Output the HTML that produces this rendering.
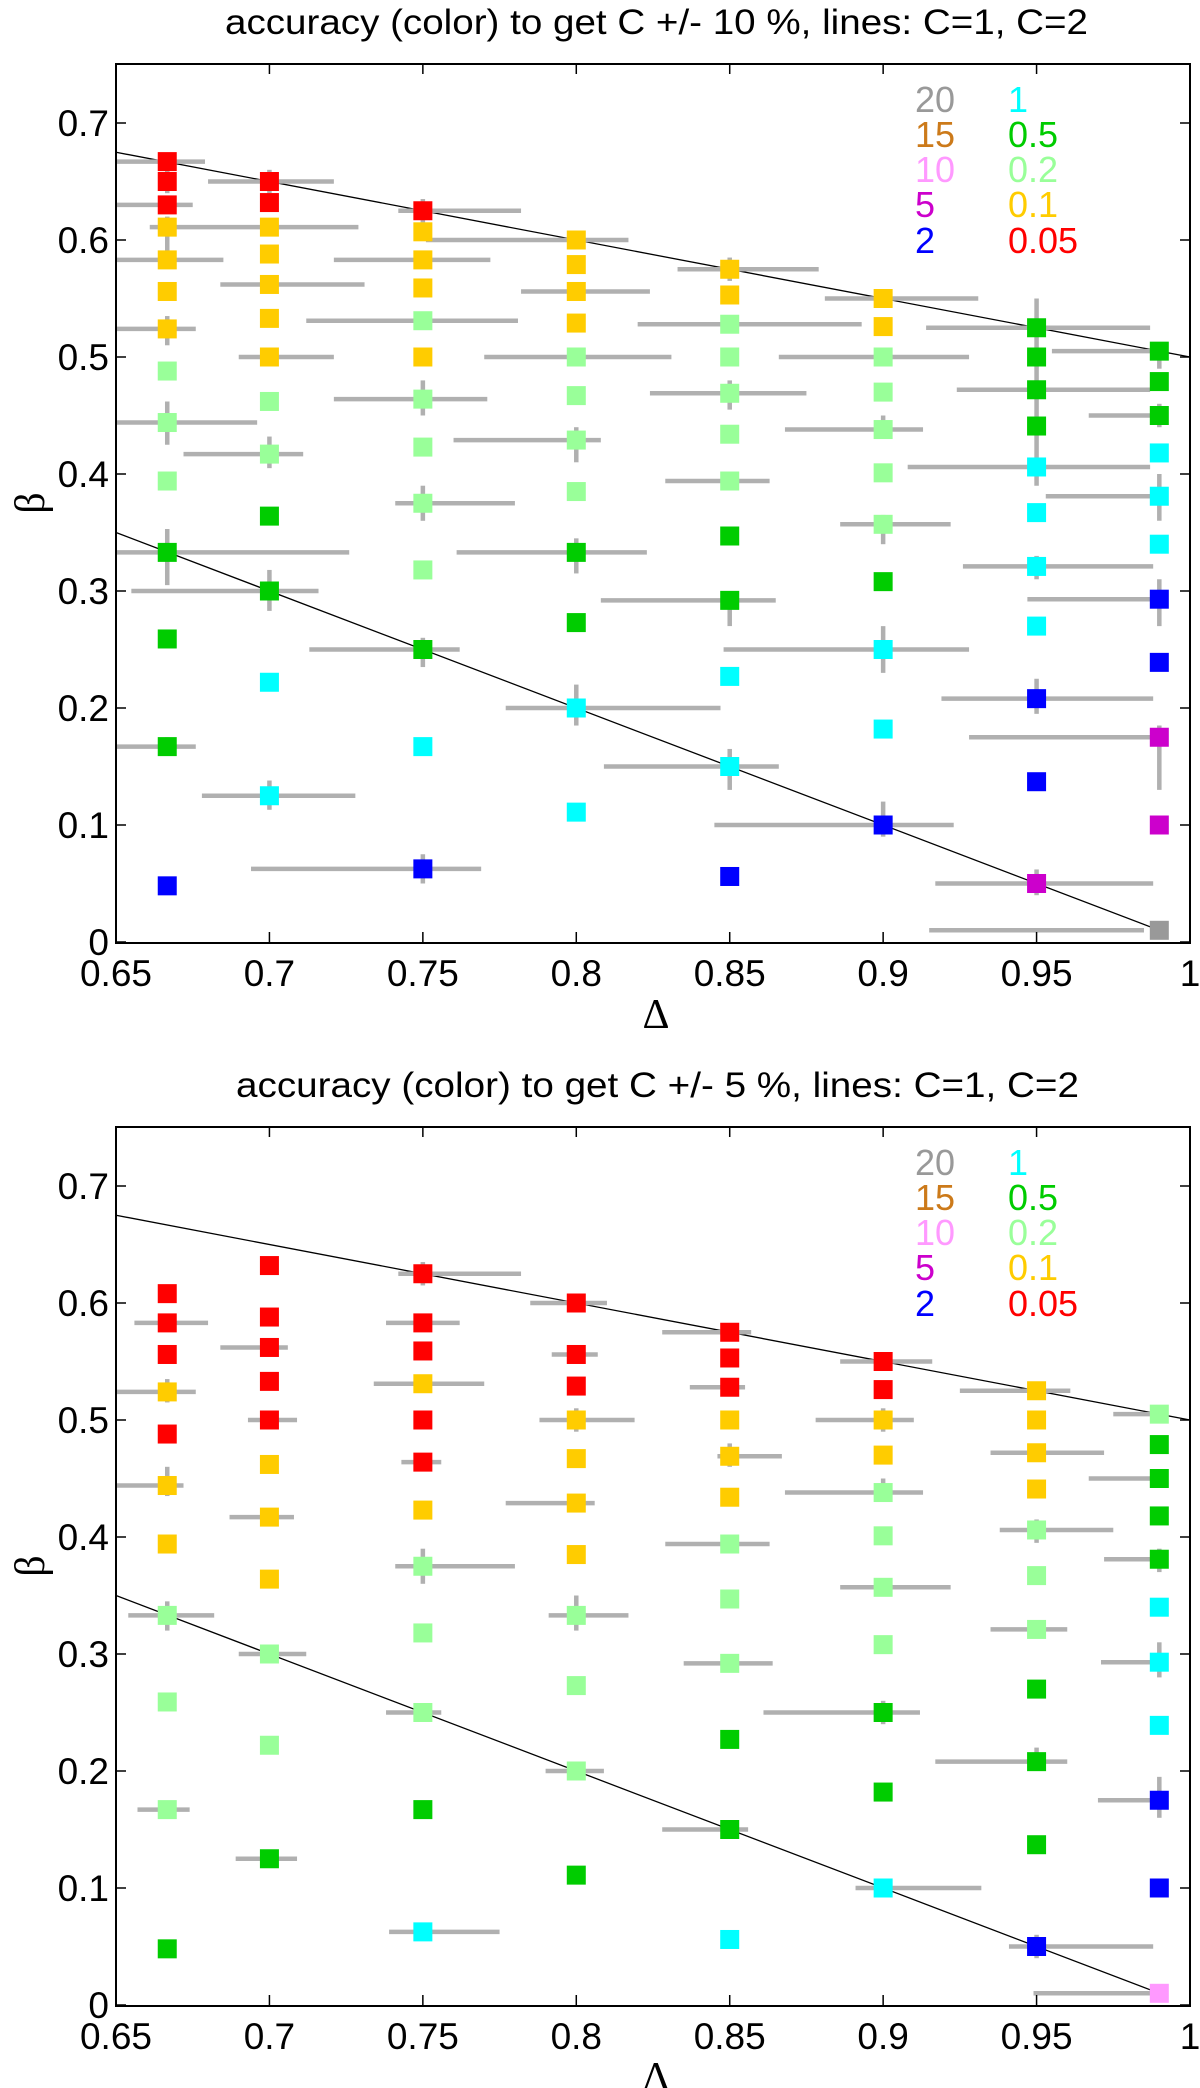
<!DOCTYPE html>
<html><head><meta charset="utf-8"><style>
body{margin:0;background:#fff;}
svg{display:block;font-family:"Liberation Sans",sans-serif;}
</style></head><body>
<svg id="chart" width="1200" height="2088" viewBox="0 0 1200 2088" xmlns="http://www.w3.org/2000/svg"></svg>
<script>
// ---------- data ----------
const xTicks = [0.65,0.7,0.75,0.8,0.85,0.9,0.95,1];
const xTickLabels = ["0.65","0.7","0.75","0.8","0.85","0.9","0.95","1"];
const yTicks = [0,0.1,0.2,0.3,0.4,0.5,0.6,0.7];
const yTickLabels = ["0","0.1","0.2","0.3","0.4","0.5","0.6","0.7"];
const legendCol1 = [["20","K"],["15","O"],["10","P"],["5","M"],["2","B"]];
const legendCol2 = [["1","C"],["0.5","G"],["0.2","L"],["0.1","Y"],["0.05","R"]];
const titles = ["accuracy (color) to get C +/- 10 %, lines: C=1, C=2","accuracy (color) to get C +/- 5 %, lines: C=1, C=2"];
const colsX = [0.6667,0.7,0.75,0.8,0.85,0.9,0.95,0.99];
const topPoints = [
[0,.667,"R"],[0,.65,"R"],[0,.63,"R"],[0,.611,"Y"],[0,.583,"Y"],[0,.556,"Y"],[0,.524,"Y"],[0,.488,"L"],[0,.444,"L"],[0,.394,"L"],[0,.333,"G"],[0,.259,"G"],[0,.167,"G"],[0,.048,"B"],
[1,.65,"R"],[1,.632,"R"],[1,.611,"Y"],[1,.588,"Y"],[1,.562,"Y"],[1,.533,"Y"],[1,.5,"Y"],[1,.462,"L"],[1,.417,"L"],[1,.364,"G"],[1,.3,"G"],[1,.222,"C"],[1,.125,"C"],
[2,.625,"R"],[2,.607,"Y"],[2,.583,"Y"],[2,.559,"Y"],[2,.531,"L"],[2,.5,"Y"],[2,.464,"L"],[2,.423,"L"],[2,.375,"L"],[2,.318,"L"],[2,.25,"G"],[2,.167,"C"],[2,.0625,"B"],
[3,.6,"Y"],[3,.579,"Y"],[3,.556,"Y"],[3,.529,"Y"],[3,.5,"L"],[3,.467,"L"],[3,.429,"L"],[3,.385,"L"],[3,.333,"G"],[3,.273,"G"],[3,.2,"C"],[3,.111,"C"],
[4,.575,"Y"],[4,.553,"Y"],[4,.528,"L"],[4,.5,"L"],[4,.469,"L"],[4,.434,"L"],[4,.394,"L"],[4,.347,"G"],[4,.292,"G"],[4,.227,"C"],[4,.15,"C"],[4,.056,"B"],
[5,.55,"Y"],[5,.526,"Y"],[5,.5,"L"],[5,.47,"L"],[5,.438,"L"],[5,.401,"L"],[5,.357,"L"],[5,.308,"G"],[5,.25,"C"],[5,.182,"C"],[5,.1,"B"],
[6,.525,"G"],[6,.5,"G"],[6,.472,"G"],[6,.441,"G"],[6,.406,"C"],[6,.367,"C"],[6,.321,"C"],[6,.27,"C"],[6,.208,"B"],[6,.137,"B"],[6,.05,"M"],
[7,.505,"G"],[7,.479,"G"],[7,.45,"G"],[7,.418,"C"],[7,.381,"C"],[7,.34,"C"],[7,.293,"B"],[7,.239,"B"],[7,.175,"M"],[7,.1,"M"],[7,.01,"K"]
];
const topHBars = [
[.667,.65,.679],[.65,.68,.721],[.63,.65,.675],[.611,.661,.729],[.625,.742,.782],[.6,.751,.817],[.583,.65,.685],[.583,.721,.772],
[.562,.684,.731],[.575,.833,.879],[.556,.782,.824],[.55,.881,.931],[.531,.712,.781],[.524,.65,.676],[.528,.82,.893],[.525,.914,.987],
[.5,.69,.721],[.5,.77,.831],[.5,.866,.928],[.505,.955,.987],[.472,.924,.987],[.464,.721,.771],[.469,.824,.875],[.45,.967,.987],
[.444,.65,.696],[.438,.868,.913],[.429,.76,.808],[.417,.672,.711],[.406,.908,.987],[.394,.829,.863],[.381,.953,.987],[.375,.741,.78],
[.357,.886,.922],[.333,.65,.726],[.333,.761,.823],[.321,.926,.988],[.3,.655,.716],[.293,.947,.987],[.292,.808,.865],[.25,.713,.762],
[.25,.848,.928],[.2,.777,.847],[.208,.919,.988],[.175,.928,.987],[.167,.65,.676],[.15,.809,.866],[.125,.678,.728],[.1,.845,.923],
[.0625,.694,.769],[.05,.917,.988],[.01,.915,.985]
];
const topVBars = [
[0,.64,.672],[0,.59,.62],[0,.51,.535],[0,.425,.462],[0,.305,.353],[0,.16,.175],
[1,.64,.66],[1,.405,.432],[1,.283,.318],[1,.113,.138],
[2,.615,.635],[2,.45,.48],[2,.36,.39],[2,.235,.26],[2,.05,.075],
[3,.41,.44],[3,.315,.345],[3,.185,.22],
[4,.565,.585],[4,.455,.48],[4,.27,.3],[4,.13,.165],
[5,.43,.45],[5,.34,.365],[5,.23,.27],[5,.09,.12],
[6,.39,.55],[6,.31,.33],[6,.195,.225],[6,.04,.062],
[7,.49,.5],[7,.44,.46],[7,.36,.4],[7,.27,.31],[7,.13,.185]
];
const botPoints = [
[0,.608,"R"],[0,.583,"R"],[0,.556,"R"],[0,.524,"Y"],[0,.488,"R"],[0,.444,"Y"],[0,.394,"Y"],[0,.333,"L"],[0,.259,"L"],[0,.167,"L"],[0,.048,"G"],
[1,.632,"R"],[1,.588,"R"],[1,.562,"R"],[1,.533,"R"],[1,.5,"R"],[1,.462,"Y"],[1,.417,"Y"],[1,.364,"Y"],[1,.3,"L"],[1,.222,"L"],[1,.125,"G"],
[2,.625,"R"],[2,.583,"R"],[2,.559,"R"],[2,.531,"Y"],[2,.5,"R"],[2,.464,"R"],[2,.423,"Y"],[2,.375,"L"],[2,.318,"L"],[2,.25,"L"],[2,.167,"G"],[2,.0625,"C"],
[3,.6,"R"],[3,.556,"R"],[3,.529,"R"],[3,.5,"Y"],[3,.467,"Y"],[3,.429,"Y"],[3,.385,"Y"],[3,.333,"L"],[3,.273,"L"],[3,.2,"L"],[3,.111,"G"],
[4,.575,"R"],[4,.553,"R"],[4,.528,"R"],[4,.5,"Y"],[4,.469,"Y"],[4,.434,"Y"],[4,.394,"L"],[4,.347,"L"],[4,.292,"L"],[4,.227,"G"],[4,.15,"G"],[4,.056,"C"],
[5,.55,"R"],[5,.526,"R"],[5,.5,"Y"],[5,.47,"Y"],[5,.438,"L"],[5,.401,"L"],[5,.357,"L"],[5,.308,"L"],[5,.25,"G"],[5,.182,"G"],[5,.1,"C"],
[6,.525,"Y"],[6,.5,"Y"],[6,.472,"Y"],[6,.441,"Y"],[6,.406,"L"],[6,.367,"L"],[6,.321,"L"],[6,.27,"G"],[6,.208,"G"],[6,.137,"G"],[6,.05,"B"],
[7,.505,"L"],[7,.479,"G"],[7,.45,"G"],[7,.418,"G"],[7,.381,"G"],[7,.34,"C"],[7,.293,"C"],[7,.239,"C"],[7,.175,"B"],[7,.1,"B"],[7,.01,"P"]
];
const botHBars = [
[.583,.656,.68],[.583,.738,.762],[.562,.684,.706],[.524,.65,.676],[.444,.65,.672],[.333,.654,.682],[.167,.657,.674],
[.625,.742,.782],[.6,.785,.81],[.575,.828,.857],[.55,.886,.916],[.525,.925,.961],[.505,.975,.99],
[.5,.693,.709],[.5,.788,.819],[.5,.878,.91],[.531,.734,.77],[.556,.792,.807],[.528,.837,.855],[.464,.743,.756],
[.469,.846,.867],[.472,.935,.972],[.45,.967,.989],[.438,.868,.913],[.429,.777,.806],[.417,.687,.708],[.406,.938,.975],
[.394,.829,.863],[.381,.972,.989],[.375,.741,.78],[.357,.886,.922],[.333,.791,.817],[.321,.935,.96],[.3,.69,.712],
[.293,.971,.989],[.292,.835,.864],[.25,.738,.756],[.25,.861,.912],[.2,.79,.809],[.208,.917,.96],[.175,.97,.989],
[.15,.828,.856],[.125,.689,.709],[.1,.891,.932],[.0625,.739,.775],[.05,.941,.988],[.01,.949,.988]
];
const botVBars = [
[0,.515,.535],[0,.435,.46],[0,.32,.345],[2,.615,.635],[2,.36,.39],[3,.32,.35],[3,.49,.51],[4,.46,.48],[5,.43,.45],[5,.24,.26],[5,.49,.51],
[6,.04,.06],[6,.2,.22],[6,.395,.415],[7,.16,.195],[7,.28,.31],[7,.37,.39]
];
// ---------- drawing ----------
const colors = {R:"#ff0000",Y:"#ffcc00",L:"#99ff99",G:"#00cc00",C:"#00ffff",B:"#0000ff",M:"#cc00cc",P:"#ff99ff",O:"#cc7a1a",K:"#999999"};
const NS = "http://www.w3.org/2000/svg";
const svg = document.getElementById("chart");
function mk(tag, attrs, parent){const e=document.createElementNS(NS,tag);for(const k in attrs)e.setAttribute(k,attrs[k]);(parent||svg).appendChild(e);return e;}
const L=116,R=1190,T0=64,B0=942;
function panel(off, title, points, hbars, vbars, idx){
  const g = mk("g",{});
  
  
  const X = v => L + (v-0.65)/0.35*(R-L);
  const Y = v => B0 + off - v*1170;
  const tx0 = idx===1 ? 225 : 236;
  const t = mk("text",{x:tx0,y:34+off,"font-size":35,textLength:idx===1?863:843,lengthAdjust:"spacingAndGlyphs",fill:"#000"},g);
  t.textContent = title;
  
  
  const l1 = mk("line",{x1:X(0.65),y1:Y(1-0.65/2),x2:X(1),y2:Y(0.5),stroke:"#000","stroke-width":1.3},g);
  
  
  const l2 = mk("line",{x1:X(0.65),y1:Y(0.35),x2:X(0.99),y2:Y(0.01),stroke:"#000","stroke-width":1.3},g);
  
  
  hbars.forEach(b=>{
    const e=mk("line",{x1:X(b[1]),x2:X(b[2]),y1:Y(b[0]),y2:Y(b[0]),stroke:"#b0b0b0","stroke-width":4.5},g);
    
    
  });
  vbars.forEach(b=>{
    const x=X(colsX[b[0]]);
    const e=mk("line",{x1:x,x2:x,y1:Y(b[1]),y2:Y(b[2]),stroke:"#b0b0b0","stroke-width":4.5},g);
    
    
  });
  points.forEach(p=>{
    const x=X(colsX[p[0]]), y=Y(p[1]);
    const e=mk("rect",{x:x-9.5,y:y-9.5,width:19,height:19,fill:colors[p[2]]},g);
    
    
  });
  const fr = mk("rect",{x:L,y:T0+off,width:R-L,height:B0-T0+1,fill:"none",stroke:"#000","stroke-width":2},g);
  
  
  xTicks.forEach((v,i)=>{
    const x=X(v);
    mk("line",{x1:x,x2:x,y1:B0+off,y2:B0+off-10,stroke:"#000","stroke-width":1.5},g);
    mk("line",{x1:x,x2:x,y1:T0+off,y2:T0+off+10,stroke:"#000","stroke-width":1.5},g);
    const tx=mk("text",{x:x,y:986+off,"text-anchor":"middle","font-size":37,fill:"#000"},g);
    tx.textContent=xTickLabels[i];
    
    
  });
  yTicks.forEach((v,i)=>{
    const y=Y(v);
    mk("line",{x1:L,x2:L+10,y1:y,y2:y,stroke:"#000","stroke-width":1.5},g);
    mk("line",{x1:R,x2:R-10,y1:y,y2:y,stroke:"#000","stroke-width":1.5},g);
    const ty=mk("text",{x:109,y:y+13,"text-anchor":"end","font-size":37,fill:"#000"},g);
    ty.textContent=yTickLabels[i];
    
    
  });
  const xl=mk("text",{x:656,y:1028+off,"text-anchor":"middle","font-size":42,"font-family":"Liberation Serif, serif",fill:"#000"},g);
  xl.textContent="Δ";
  
  
  const yl=mk("text",{x:0,y:0,"text-anchor":"middle","font-size":42,"font-family":"Liberation Serif, serif",fill:"#000",transform:`translate(44,${503+off}) rotate(-90)`},g);
  yl.textContent="β";
  
  
  const baselines=[112,147,182,217,253];
  legendCol1.forEach((e,i)=>{
    const tt=mk("text",{x:915,y:baselines[i]+off,"font-size":36,fill:colors[e[1]]},g);
    tt.textContent=e[0];
    
    
  });
  legendCol2.forEach((e,i)=>{
    const tt=mk("text",{x:1008,y:baselines[i]+off,"font-size":36,fill:colors[e[1]]},g);
    tt.textContent=e[0];
    
    
  });
}
panel(0, titles[0], topPoints, topHBars, topVBars, 1);
panel(1063, titles[1], botPoints, botHBars, botVBars, 2);
</script>
</body></html>
